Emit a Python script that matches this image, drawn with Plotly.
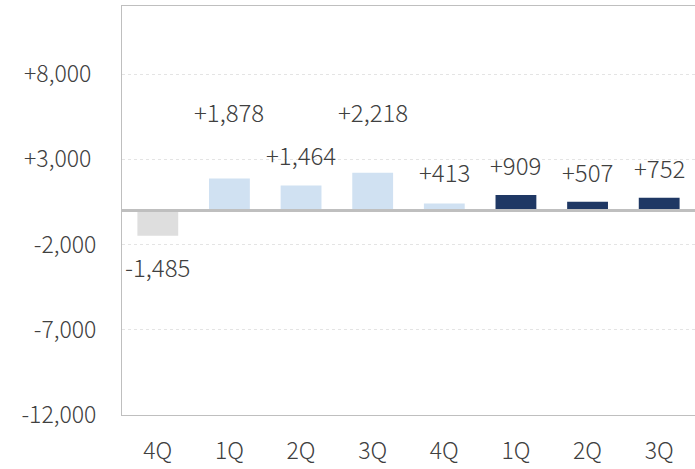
import plotly.graph_objects as go

categories = ["4Q", "1Q", "2Q", "3Q", "4Q ", "1Q ", "2Q ", "3Q "]
tick_text = ["4Q", "1Q", "2Q", "3Q", "4Q", "1Q", "2Q", "3Q"]
values = [-1485, 1878, 1464, 2218, 413, 909, 507, 752]
labels = ["-1,485", "+1,878", "+1,464", "+2,218", "+413", "+909", "+507", "+752"]
label_y = [-3300, 5800, 3300, 5800, 2300, 2700, 2300, 2550]
colors = ["#dedede", "#d0e1f2", "#d0e1f2", "#d0e1f2", "#d0e1f2", "#1f3864", "#1f3864", "#1f3864"]
y_ticks = [8000, 3000, -2000, -7000, -12000]
y_tick_text = ["+8,000 ", "+3,000 ", "-2,000", "-7,000", "-12,000"]

FONT = "Noto Sans CJK JP"
TXT = "#404040"

fig = go.Figure()
fig.add_trace(go.Bar(
    x=categories, y=values,
    marker=dict(color=colors, line=dict(width=0)),
    width=0.57,
    hoverinfo="skip",
))

for c, t, ly in zip(categories, labels, label_y):
    fig.add_annotation(x=c, y=ly, text=t, showarrow=False, xanchor="center", yanchor="middle",
                       font=dict(family=FONT, size=24, color=TXT, weight=300))

fig.add_shape(type="line", xref="paper", x0=0, x1=1, yref="y", y0=0, y1=0,
              line=dict(color="#bfbfbf", width=3), layer="above")

fig.update_layout(
    width=695, height=469,
    margin=dict(l=122, r=0, t=6, b=54),
    paper_bgcolor="white", plot_bgcolor="white",
    showlegend=False,
    bargap=0.43,
    font=dict(family=FONT, size=24, color=TXT, weight=300),
)
fig.update_xaxes(
    type="category",
    tickvals=categories, ticktext=tick_text,
    showline=True, linecolor="#bfbfbf", linewidth=1, mirror=True,
    showgrid=False, ticks="", ticklen=0, ticklabelstandoff=15,
    tickfont=dict(family=FONT, size=23, color=TXT, weight=300),
)
fig.update_yaxes(
    range=[-12000, 12000],
    tickvals=y_ticks, ticktext=y_tick_text,
    showline=True, linecolor="#bfbfbf", linewidth=1,
    showgrid=True, gridcolor="#e4e4e4", gridwidth=1, griddash="dot",
    zeroline=False, ticks="", ticklabelstandoff=20,
    tickfont=dict(family=FONT, size=23, color=TXT, weight=300),
)

fig.write_html("out.html", config={"displayModeBar": False},
               post_script="document.body.style.margin='0px';")
